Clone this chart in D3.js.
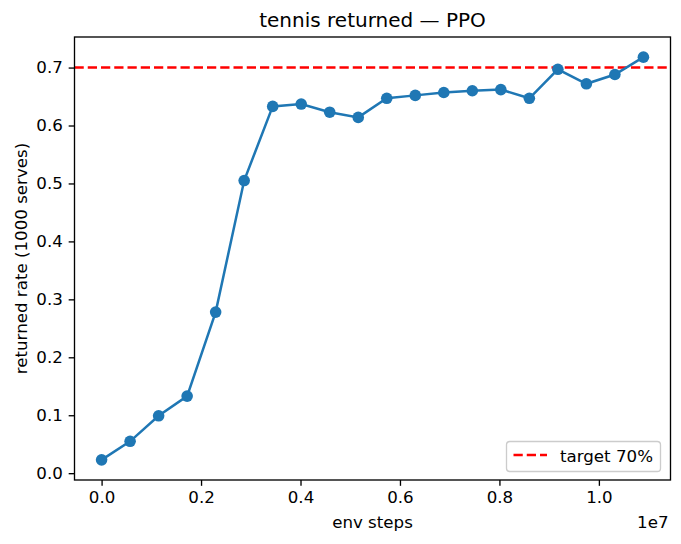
<!DOCTYPE html>
<html>
<head>
<meta charset="utf-8">
<script src="https://cdn.jsdelivr.net/npm/d3@7"></script>
<style>
  body { margin: 0; background: #fff; }
  svg text { font-family: "DejaVu Sans", sans-serif; fill: #000; }
</style>
</head>
<body>
<svg id="svg" width="681" height="544"></svg>
<script>
// env steps at each evaluation, and the returned rate measured there
var steps = [0, 573440, 1146880, 1720320, 2293760, 2867200, 3440640, 4014080, 4587520, 5160960,
             5734400, 6307840, 6881280, 7454720, 8028160, 8601600, 9175040, 9748480, 10321920, 10895360];
var rate  = [0.023, 0.055, 0.099, 0.133, 0.278, 0.505, 0.633, 0.637, 0.623, 0.614,
             0.647, 0.652, 0.657, 0.660, 0.662, 0.647, 0.697, 0.672, 0.688, 0.718];
var target = 0.7;
var xTicks = [0, 2e6, 4e6, 6e6, 8e6, 1e7],
    yTicks = [0, 0.1, 0.2, 0.3, 0.4, 0.5, 0.6, 0.7];

var svg = d3.select("#svg");

var L = 74.5, R = 670.5, T = 37, B = 480,
    fs = 16.67, tk = 5.83;

// matplotlib style 5% margins around the data
var xr = d3.extent(steps), yr = d3.extent(rate);
var xpad = (xr[1]-xr[0])*0.05, ypad = (yr[1]-yr[0])*0.05;
var x = d3.scaleLinear().domain([xr[0]-xpad, xr[1]+xpad]).range([L, R]),
    y = d3.scaleLinear().domain([yr[0]-ypad, yr[1]+ypad]).range([B, T]);

var gx = svg.append("g").attr("transform", "translate(0,"+B+")")
    .call(d3.axisBottom(x).tickValues(xTicks).tickSize(tk).tickPadding(tk)
        .tickFormat(d=>d3.format(".1f")(d/1e7)));
var gy = svg.append("g").attr("transform", "translate("+L+",0)")
    .call(d3.axisLeft(y).tickValues(yTicks).tickSize(tk).tickPadding(tk)
        .tickFormat(d3.format(".1f")));
[gx, gy].forEach(g => {
    g.select(".domain").remove();
    g.selectAll("line").attr("stroke", "#000").attr("stroke-width", 1.33);
    g.selectAll("text").attr("font-size", fs).attr("font-family", "DejaVu Sans").attr("fill", "#000");
});

// target line
svg.append("line")
    .attr("x1", L).attr("x2", R).attr("y1", y(target)).attr("y2", y(target))
    .attr("stroke", "red").attr("stroke-width", 2.5).attr("stroke-dasharray", "9.25,4");

var line = d3.line().x((d,i)=>x(steps[i])).y(d=>y(d));
svg.append("path").datum(rate)
    .attr("d", line).attr("fill", "none").attr("stroke", "#1f77b4").attr("stroke-width", 2.5);
svg.selectAll(".pt").data(rate).enter().append("circle")
    .attr("class", "pt")
    .attr("cx", (d,i)=>x(steps[i])).attr("cy", d=>y(d)).attr("r", 5.8).attr("fill", "#1f77b4");

// frame
svg.append("rect").attr("x", L).attr("y", T).attr("width", R-L).attr("height", B-T)
    .attr("fill", "none").attr("stroke", "#000").attr("stroke-width", 1.33);

// texts
svg.append("text").attr("x", (L+R)/2).attr("y", 26.7).attr("text-anchor", "middle")
    .attr("font-size", 20).text("tennis returned — PPO");
svg.append("text").attr("x", (L+R)/2).attr("y", 528).attr("text-anchor", "middle")
    .attr("font-size", fs).text("env steps");
svg.append("text").attr("transform", "translate(27,"+((T+B)/2)+") rotate(-90)")
    .attr("text-anchor", "middle").attr("font-size", fs).text("returned rate (1000 serves)");
svg.append("text").attr("x", R-2).attr("y", 528).attr("text-anchor", "end")
    .attr("font-size", fs).text("1e7");

// legend
var lg = svg.append("g").attr("transform", "translate(506.5,441.5)");
lg.append("rect").attr("width", 154).attr("height", 30).attr("rx", 3.3)
    .attr("fill", "#fff").attr("fill-opacity", 0.8).attr("stroke", "#ccc").attr("stroke-width", 1.33);
lg.append("line").attr("x1", 7).attr("x2", 40.5).attr("y1", 13.5).attr("y2", 13.5)
    .attr("stroke", "red").attr("stroke-width", 2.5).attr("stroke-dasharray", "9.25,4");
lg.append("text").attr("x", 53.5).attr("y", 20).attr("font-size", fs).text("target 70%");
</script>
</body>
</html>
